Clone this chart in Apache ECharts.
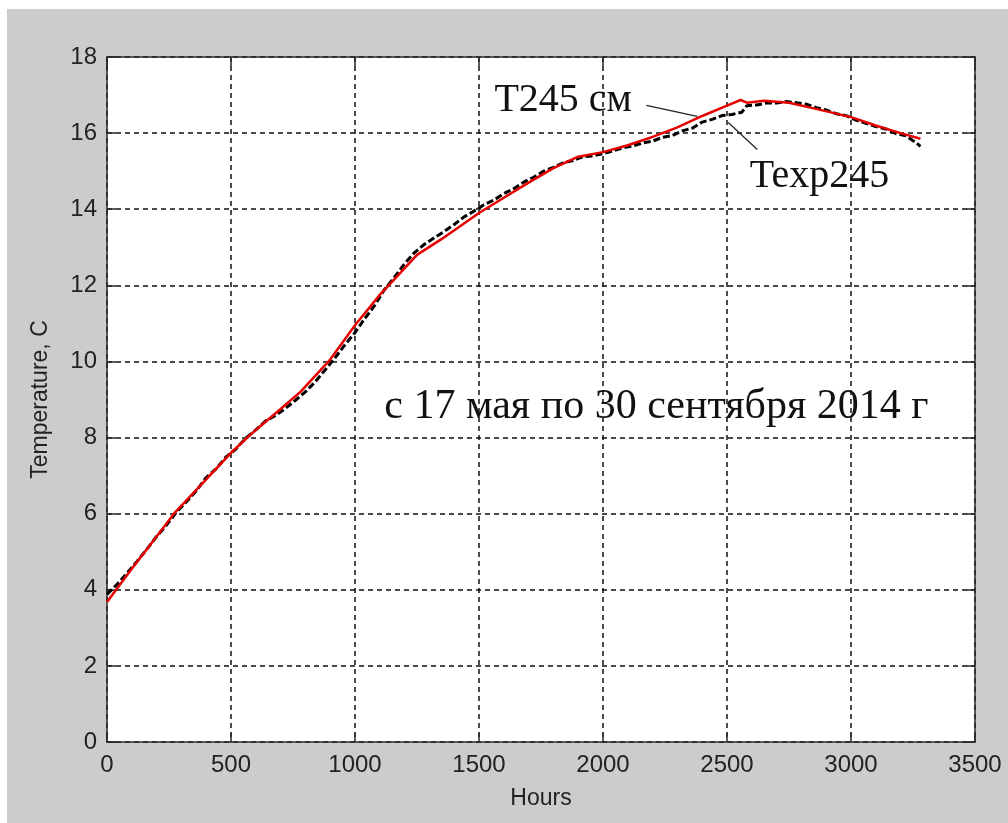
<!DOCTYPE html>
<html>
<head>
<meta charset="utf-8">
<script src="https://cdn.jsdelivr.net/npm/echarts@6/dist/echarts.min.js"></script>
<style>
html,body{margin:0;padding:0;background:#fff;}
#c{width:1008px;height:823px;}
</style>
</head>
<body>
<div id="c"></div>
<script>
// ---- data ----
const xTicks = [0, 500, 1000, 1500, 2000, 2500, 3000, 3500];
const yTicks = [0, 2, 4, 6, 8, 10, 12, 14, 16, 18];

// model curve T245 (red)
const modelHours = [0, 100, 200, 270, 400, 500, 600, 700, 780, 900, 1000, 1100, 1150, 1250, 1350, 1500, 1600, 1700, 1800, 1900, 2000, 2100, 2200, 2300, 2400, 2500, 2555, 2580, 2650, 2750, 2850, 3000, 3100, 3200, 3280];
const modelTemp  = [3.68, 4.55, 5.4, 6.0, 6.9, 7.6, 8.2, 8.75, 9.2, 10.05, 10.95, 11.75, 12.1, 12.8, 13.22, 13.9, 14.3, 14.7, 15.08, 15.38, 15.5, 15.68, 15.9, 16.15, 16.45, 16.72, 16.87, 16.8, 16.85, 16.8, 16.65, 16.42, 16.2, 16.0, 15.85];

// experimental curve Texp245 (black)
const expHours = [0, 40, 80, 120, 160, 200, 240, 280, 320, 360, 400, 440, 480, 520, 560, 600, 640, 680, 720, 760, 800, 840, 880, 920, 960, 1000, 1040, 1080, 1120, 1160, 1200, 1240, 1280, 1320, 1360, 1400, 1440, 1480, 1520, 1560, 1600, 1640, 1680, 1720, 1760, 1800, 1840, 1880, 1920, 1960, 2000, 2040, 2080, 2120, 2160, 2200, 2240, 2280, 2320, 2360, 2400, 2440, 2480, 2520, 2560, 2580, 2620, 2660, 2700, 2740, 2780, 2820, 2860, 2900, 2940, 2980, 3020, 3060, 3100, 3140, 3180, 3220, 3260, 3280];
const expTemp  = [3.88, 4.14, 4.43, 4.74, 5.06, 5.4, 5.7, 6.04, 6.31, 6.6, 6.95, 7.18, 7.49, 7.7, 7.99, 8.2, 8.44, 8.58, 8.77, 8.98, 9.2, 9.47, 9.78, 10.1, 10.44, 10.76, 11.13, 11.48, 11.9, 12.22, 12.57, 12.86, 13.08, 13.25, 13.42, 13.6, 13.8, 13.95, 14.12, 14.24, 14.41, 14.54, 14.71, 14.84, 15.0, 15.1, 15.22, 15.28, 15.38, 15.4, 15.46, 15.53, 15.61, 15.66, 15.74, 15.79, 15.89, 15.94, 16.06, 16.13, 16.29, 16.36, 16.46, 16.49, 16.55, 16.72, 16.74, 16.79, 16.79, 16.83, 16.8, 16.76, 16.67, 16.61, 16.51, 16.46, 16.34, 16.26, 16.17, 16.11, 15.99, 15.93, 15.76, 15.65];

const labelModel = 'T245 см';
const labelExp = 'Texp245';
const periodText = 'с 17 мая по 30 сентября 2014 г';
const xName = 'Hours';
const yName = 'Temperature, C';

const modelData = modelHours.map((h, i) => [h, modelTemp[i]]);
const expData = expHours.map((h, i) => [h, expTemp[i]]);

const chart = echarts.init(document.getElementById('c'), null, {renderer: 'canvas'});

const axisCol = '#2a2a2a';
const tickFont = {fontFamily: 'Liberation Sans, Arial, sans-serif', fontSize: 24, color: '#222'};
const plain = v => String(v);

function mkX(pos, main) {
  return {
    type: 'value', position: pos, min: xTicks[0], max: xTicks[xTicks.length - 1], interval: xTicks[1] - xTicks[0],
    axisLine: {show: true, onZero: false, lineStyle: {color: axisCol, width: 1.5}},
    axisTick: {show: true, inside: true, length: 9, lineStyle: {color: axisCol, width: 1.5}},
    axisLabel: main ? Object.assign({show: true, margin: 11, formatter: plain}, tickFont) : {show: false},
    splitLine: main ? {show: true, lineStyle: {color: '#111', width: 1.5, type: [5, 4]}} : {show: false},
    name: main ? xName : '', nameLocation: 'middle', nameGap: 45,
    nameTextStyle: {fontFamily: 'Liberation Sans, Arial, sans-serif', fontSize: 23, color: '#222'}
  };
}
function mkY(pos, main) {
  return {
    type: 'value', position: pos, min: yTicks[0], max: yTicks[yTicks.length - 1], interval: yTicks[1] - yTicks[0],
    axisLine: {show: true, onZero: false, lineStyle: {color: axisCol, width: 1.5}},
    axisTick: {show: true, inside: true, length: 9, lineStyle: {color: axisCol, width: 1.5}},
    axisLabel: main ? Object.assign({show: true, margin: 10, formatter: plain}, tickFont) : {show: false},
    splitLine: main ? {show: true, lineStyle: {color: '#111', width: 1.5, type: [5, 4]}} : {show: false},
    name: main ? yName : '', nameLocation: 'middle', nameGap: 55, nameRotate: 90,
    nameTextStyle: {fontFamily: 'Liberation Sans, Arial, sans-serif', fontSize: 23, color: '#222'}
  };
}

chart.setOption({
  animation: false,
  backgroundColor: '#cccccc',
  grid: {left: 107, top: 57, width: 868, height: 685, show: true, backgroundColor: '#ffffff', borderWidth: 0, containLabel: false},
  xAxis: [mkX('bottom', true), mkX('top', false)],
  yAxis: [mkY('left', true), mkY('right', false)],
  series: [
    {type: 'line', name: labelExp, data: expData, showSymbol: false, symbol: 'none',
     lineStyle: {color: '#000', width: 3, type: [7, 3]}, z: 3},
    {type: 'line', name: labelModel, data: modelData, showSymbol: false, symbol: 'none',
     lineStyle: {color: '#e60000', width: 2.5}, z: 4}
  ]
});

// annotations anchored to data coordinates
function px(x, y) { return chart.convertToPixel({xAxisIndex: 0, yAxisIndex: 0}, [x, y]); }
const serif = 'Liberation Serif, Times New Roman, serif';
const pT = px(1562, 16.85);   // left of "T245 см"
const pE = px(2592, 14.85);   // left of "Texp245"
const pP = px(1118, 8.8);     // left of period text
const a1 = px(2175, 16.73), a2 = px(2380, 16.44);
const b1 = px(2505, 16.28), b2 = px(2622, 15.57);

chart.setOption({
  graphic: [
    {type: 'rect', shape: {x: 0, y: 0, width: 1008, height: 9}, style: {fill: '#fff'}, silent: true, z: 100},
    {type: 'rect', shape: {x: 0, y: 0, width: 7, height: 823}, style: {fill: '#fff'}, silent: true, z: 100},
    {type: 'text', x: pT[0], y: pT[1], style: {text: labelModel, font: '40px ' + serif, fill: '#111', textVerticalAlign: 'middle', textAlign: 'left'}, z: 50},
    {type: 'text', x: pE[0], y: pE[1], style: {text: labelExp, font: '40px ' + serif, fill: '#111', textVerticalAlign: 'middle', textAlign: 'left'}, z: 50},
    {type: 'text', x: pP[0], y: pP[1], style: {text: periodText, font: '42px ' + serif, fill: '#111', textVerticalAlign: 'middle', textAlign: 'left'}, z: 50},
    {type: 'line', shape: {x1: a1[0], y1: a1[1], x2: a2[0], y2: a2[1]}, style: {stroke: '#222', lineWidth: 1.2}, z: 50},
    {type: 'line', shape: {x1: b1[0], y1: b1[1], x2: b2[0], y2: b2[1]}, style: {stroke: '#222', lineWidth: 1.2}, z: 50}
  ]
});
</script>
</body>
</html>
